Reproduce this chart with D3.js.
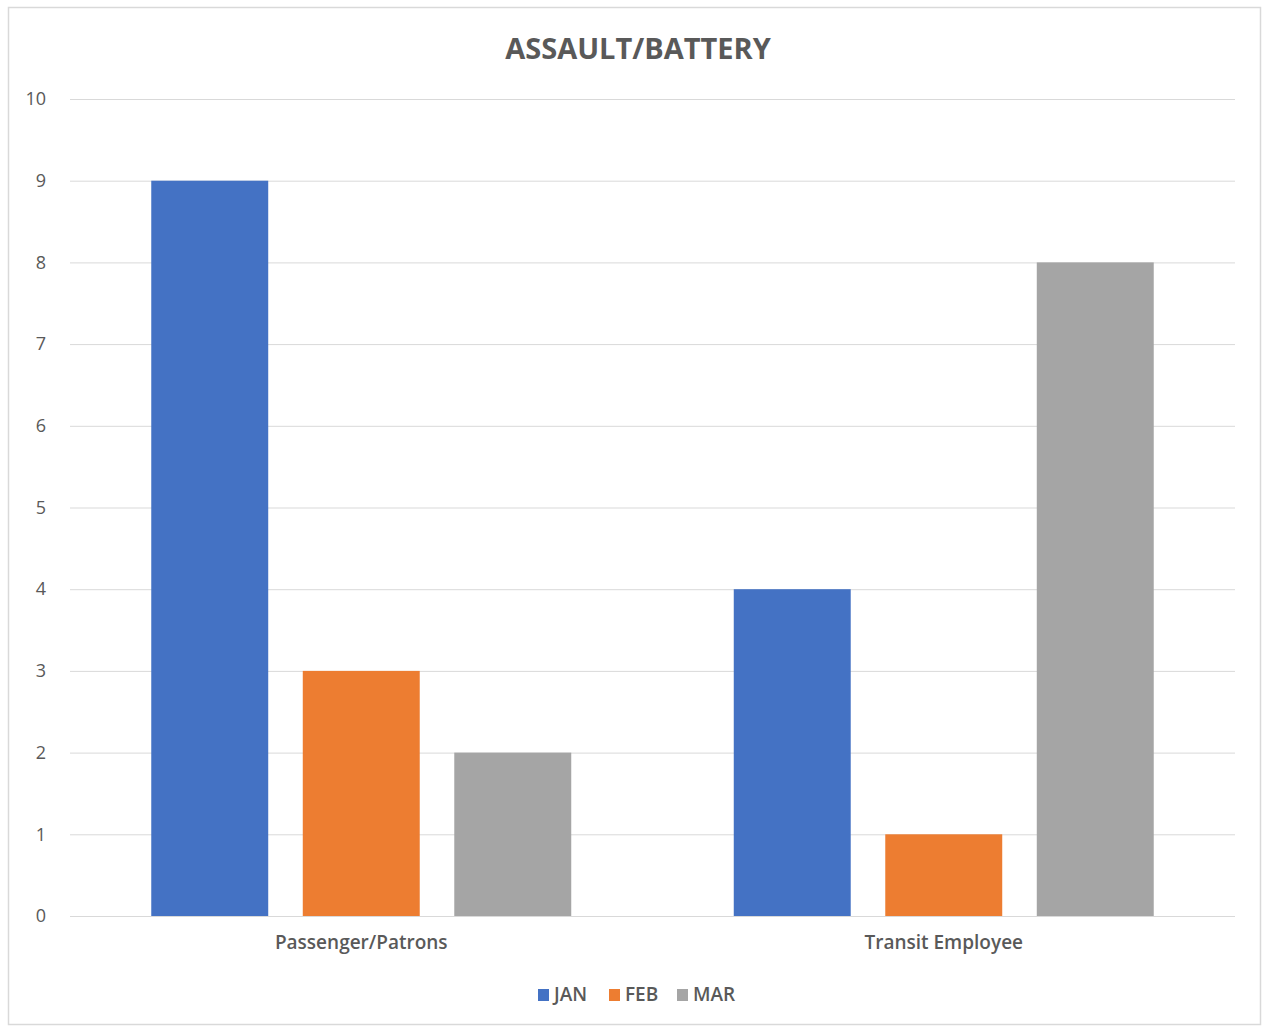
<!DOCTYPE html>
<html><head><meta charset="utf-8">
<script src="https://cdn.jsdelivr.net/npm/d3@7"></script>
<style>body{margin:0;background:#fff;} svg{display:block;}</style>
</head><body>
<svg id="chart" width="1262" height="1027"></svg>
<script>
const title = "ASSAULT/BATTERY";
const categories = ["Passenger/Patrons", "Transit Employee"];
const seriesNames = ["JAN", "FEB", "MAR"];
const seriesColors = ["#4472C4", "#ED7D31", "#A5A5A5"];
const JAN = [9, 4];
const FEB = [3, 1];
const MAR = [2, 8];
const yTicks = [0,1,2,3,4,5,6,7,8,9,10];

(function(){
const values = [JAN, FEB, MAR];
const svg = d3.select("#chart");
const font = "'Open Sans', sans-serif";
const textColor = "#595959";

svg.append("rect").attr("x",8.5).attr("y",7.5).attr("width",1252).attr("height",1017)
  .attr("fill","#fff").attr("stroke","#d9d9d9").attr("stroke-width",1.5);

const pLeft = 70, pRight = 1235, pTop = 99, pBottom = 916;
const y = d3.scaleLinear().domain([0,10]).range([pBottom, pTop]);
const x0 = d3.scaleBand().domain(categories).range([pLeft,pRight]).paddingInner(0.279).paddingOuter(0.1395);
const x1 = d3.scaleBand().domain(seriesNames).range([0, x0.bandwidth()]).paddingInner(0.228).paddingOuter(0);

const yAxis = d3.axisLeft(y).tickValues(yTicks).tickSize(-(pRight-pLeft)).tickPadding(24);
const ga = svg.append("g").attr("transform",`translate(${pLeft},0)`).call(yAxis);
ga.select(".domain").remove();
ga.selectAll(".tick line").attr("stroke","#d9d9d9").attr("stroke-width",1);
ga.selectAll(".tick text").attr("fill",textColor).style("font-family",font).style("font-size","18px");

const groups = svg.append("g").selectAll("g").data(categories).join("g")
  .attr("transform", d => `translate(${x0(d)},0)`);
groups.selectAll("rect").data((c,i) => seriesNames.map((s,j)=>({s, v: values[j][i], j})))
  .join("rect")
  .attr("x", d => x1(d.s)).attr("width", x1.bandwidth())
  .attr("y", d => y(d.v)).attr("height", d => y(0)-y(d.v))
  .attr("fill", d => seriesColors[d.j]);

const xAxis = d3.axisBottom(x0).tickSize(0).tickPadding(20);
const gx = svg.append("g").attr("transform",`translate(0,${pBottom})`).call(xAxis);
gx.select(".domain").remove();
gx.selectAll(".tick text").attr("fill",textColor).style("font-family",font).style("font-size","19px").style("font-weight","600");

svg.append("text").attr("x", 638).attr("y", 59).attr("text-anchor","middle")
  .attr("fill",textColor).style("font-family",font).style("font-size","29px").style("font-weight","bold")
  .text(title);

const legendX = [538, 609, 677];
const lg = svg.append("g").selectAll("g").data(seriesNames).join("g")
  .attr("transform",(d,i)=>`translate(${legendX[i]},989)`);
lg.append("rect").attr("width",11).attr("height",12).attr("fill",(d,i)=>seriesColors[i]);
lg.append("text").attr("x",16).attr("y",12).attr("fill",textColor).style("font-family",font)
  .style("font-size","19px").style("font-weight","600").text(d=>d);
})();
</script>
</body></html>
